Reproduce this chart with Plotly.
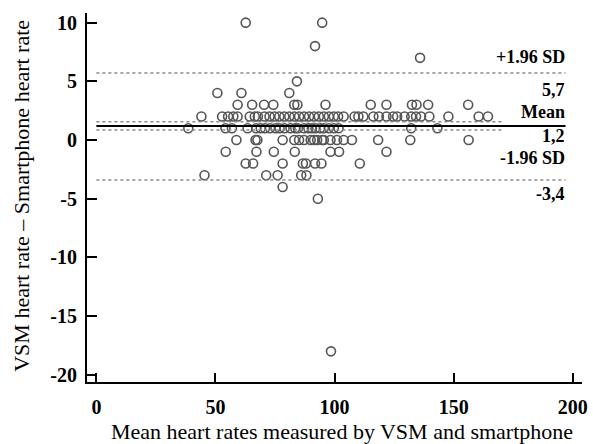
import plotly.graph_objects as go

# ---- data ----
diff_values = [10, 8, 7, 5, 4, 3, 2, 1, 0, -1, -2, -3, -4, -5, -18]
means_by_diff = {
    10: [62.7, 94.8],
    8: [91.8],
    7: [135.9],
    5: [84.2],
    4: [50.8, 60.9, 81.0],
    3: [59.3, 65.4, 70.4, 74.3, 83.1, 84.4, 96.2, 115.2, 121.8, 132.5, 134.4, 139.3, 156.1],
    2: [44.1, 52.8, 55.3, 57.5, 59.3, 64.4, 66.5, 67.8, 70.6, 72.7, 74.8, 76.8, 78.9,
        81.0, 83.1, 85.1, 87.2, 89.3, 91.4, 93.4, 95.5, 97.6, 99.7, 101.5, 103.8,
        108.4, 110.0, 112.1, 116.3, 118.6, 121.8, 124.6, 126.3, 129.4, 132.2, 134.2,
        136.3, 139.8, 147.8, 160.5, 164.4],
    1: [38.6, 54.2, 56.9, 63.5, 67.1, 69.0, 70.8, 72.9, 75.2, 76.9, 79.0, 81.5, 83.5,
        84.6, 87.2, 89.0, 90.5, 92.0, 94.0, 95.5, 97.6, 99.7, 101.7, 132.2, 143.2],
    0: [58.8, 66.8, 67.6, 78.2, 83.1, 85.1, 87.2, 90.0, 91.4, 92.7, 94.8, 95.5,
        98.3, 101.0, 103.8, 107.3, 118.3, 131.8, 156.3],
    -1: [54.3, 67.2, 74.5, 83.3, 98.3, 101.9, 121.8],
    -2: [62.7, 65.8, 78.2, 86.7, 88.0, 91.8, 94.5, 110.6],
    -3: [45.4, 71.3, 76.1, 86.0, 88.2],
    -4: [78.2],
    -5: [93.0],
    -18: [98.5],
}

mean_diff = 1.2
upper_loa = 5.7
lower_loa = -3.4
mean_ci_upper = 1.56
mean_ci_lower = 0.85

limit_names = ["+1.96 SD", "Mean", "-1.96 SD"]
limit_values = [upper_loa, mean_diff, lower_loa]
limit_texts = ["5,7", "1,2", "-3,4"]

x_ticks = [0, 50, 100, 150, 200]
y_ticks = [10, 5, 0, -5, -10, -15, -20]

xs, ys = [], []
for d in diff_values:
    for m in means_by_diff[d]:
        xs.append(m)
        ys.append(d)

SERIF = "Liberation Serif, Times New Roman, serif"

fig = go.Figure()
fig.add_trace(go.Scatter(
    x=xs, y=ys, mode="markers",
    marker=dict(symbol="circle-open", size=9, color="#555555", line=dict(width=1.6, color="#555555")),
    showlegend=False, hoverinfo="x+y",
))

line_end = 197
ci_end = 171
shapes = []
for v in [upper_loa, lower_loa]:
    shapes.append(dict(type="line", xref="x", yref="y", x0=0, x1=line_end, y0=v, y1=v,
                       line=dict(color="#8a8a8a", width=1.5, dash="dot")))
for v in [mean_ci_upper, mean_ci_lower]:
    shapes.append(dict(type="line", xref="x", yref="y", x0=0, x1=ci_end, y0=v, y1=v,
                       line=dict(color="#8a8a8a", width=1.5, dash="dot")))
shapes.append(dict(type="line", xref="x", yref="y", x0=0, x1=line_end, y0=mean_diff, y1=mean_diff,
                   line=dict(color="black", width=2)))

annotations = []
name_shift = [16, 14, 22]
val_shift = [-17, -10, -14]
for name, v, t, ns, vs in zip(limit_names, limit_values, limit_texts, name_shift, val_shift):
    annotations.append(dict(x=line_end, y=v, xref="x", yref="y", text=name, showarrow=False,
                            xanchor="right", yanchor="middle", yshift=ns, borderpad=0,
                            font=dict(family=SERIF, size=18, color="black", weight="bold")))
    annotations.append(dict(x=line_end, y=v, xref="x", yref="y", text=t, showarrow=False,
                            xanchor="right", yanchor="middle", yshift=vs, borderpad=0,
                            font=dict(family=SERIF, size=18, color="black", weight="bold")))

annotations.append(dict(x=(345 - 87) / 501, y=(382 - 431) / 369, xref="paper", yref="paper",
                        text="Mean heart rates measured by VSM and smartphone", showarrow=False,
                        xanchor="center", yanchor="middle",
                        font=dict(family=SERIF, size=22, color="black")))
annotations.append(dict(x=(20 - 87) / 501, y=(382 - 196) / 369, xref="paper", yref="paper",
                        text="VSM heart rate \u2013 Smartphone heart rate", showarrow=False,
                        textangle=-90, xanchor="center", yanchor="middle",
                        font=dict(family=SERIF, size=22, color="black")))

fig.update_layout(
    width=593, height=444,
    margin=dict(l=87, r=5, t=13, b=62),
    paper_bgcolor="white", plot_bgcolor="white",
    shapes=shapes, annotations=annotations,
    xaxis=dict(range=[-3.94, 203.9], tickvals=x_ticks, ticktext=[str(t) for t in x_ticks],
               showline=True, linecolor="black", linewidth=2, ticks="inside", ticklen=9,
               tickwidth=2, tickcolor="black", showgrid=False, zeroline=False,
               ticklabelstandoff=6, ticklabeloverflow="allow",
               tickfont=dict(family=SERIF, size=20, color="black", weight="bold")),
    yaxis=dict(range=[-20.61, 10.82], tickvals=y_ticks, ticktext=[str(t) for t in y_ticks],
               showline=True, linecolor="black", linewidth=2, ticks="inside", ticklen=10,
               tickwidth=2, tickcolor="black", showgrid=False, zeroline=False,
               ticklabelstandoff=4, ticklabeloverflow="allow",
               tickfont=dict(family=SERIF, size=20, color="black", weight="bold")),
)

fig.write_html("out.html")
